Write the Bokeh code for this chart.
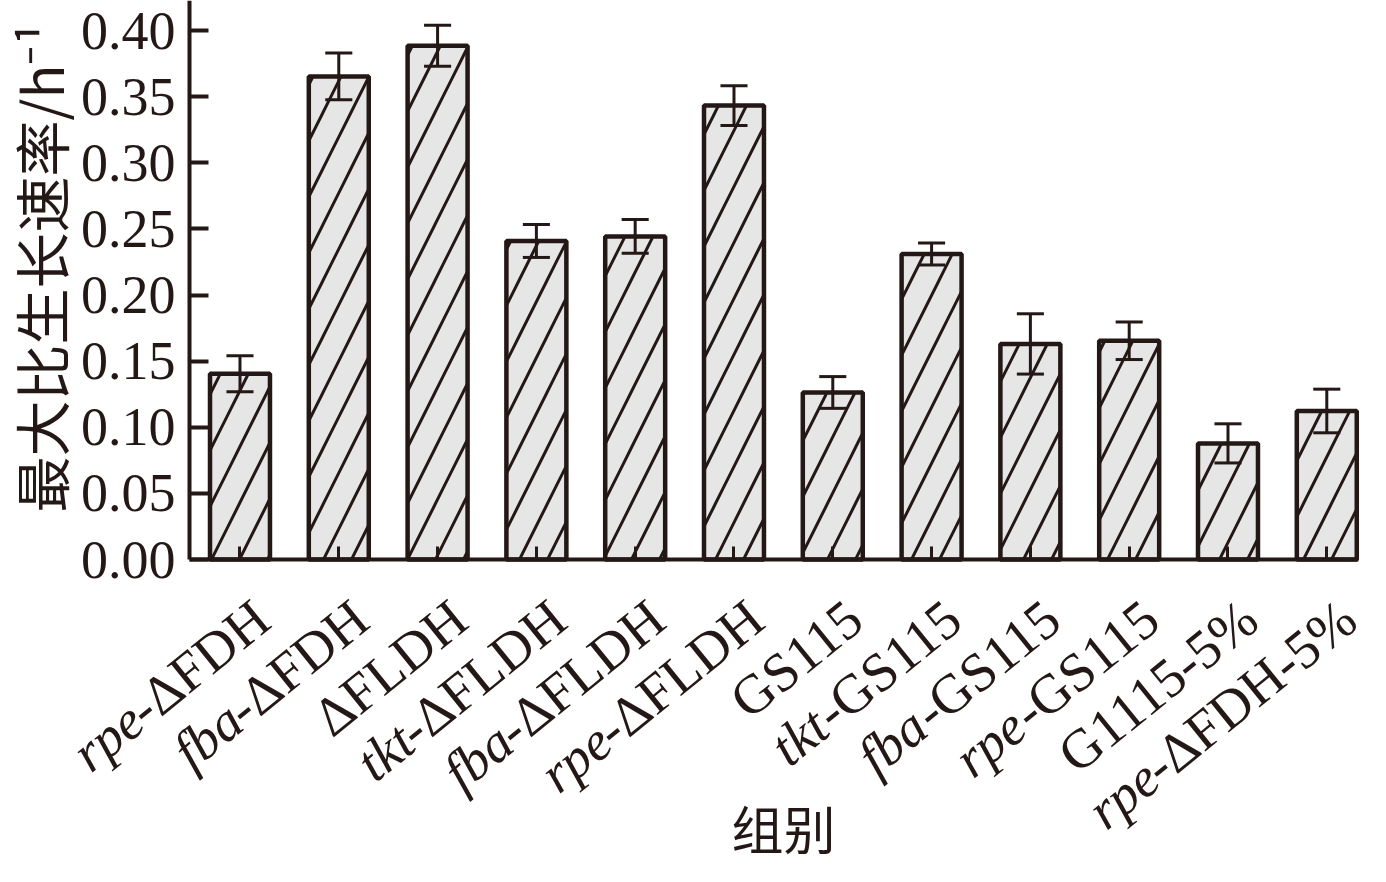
import math
from bokeh.plotting import figure
from bokeh.models import Range1d, FixedTicker, Label, ColumnDataSource
from bokeh.embed import file_html
from bokeh.resources import INLINE

# ---- data ----
gene_prefix = ["rpe", "fba", "", "tkt", "fba", "rpe", "", "tkt", "fba", "rpe", "", "rpe"]
strain_suffix = ["-ΔFDH", "-ΔFDH", "ΔFLDH", "-ΔFLDH", "-ΔFLDH", "-ΔFLDH",
                 "GS115", "-GS115", "-GS115", "-GS115", "G1115-5%", "-ΔFDH-5%"]
rates = [0.1405, 0.3653, 0.3885, 0.2409, 0.2443, 0.3432, 0.1263, 0.2310, 0.1630, 0.1654, 0.0878, 0.1123]
errors = [0.0136, 0.0177, 0.0155, 0.0125, 0.0128, 0.0150, 0.0120, 0.0083, 0.0228, 0.0142, 0.0148, 0.0165]
y_ticks = [0.00, 0.05, 0.10, 0.15, 0.20, 0.25, 0.30, 0.35, 0.40]
y_tick_labels = ["0.00", "0.05", "0.10", "0.15", "0.20", "0.25", "0.30", "0.35", "0.40"]
y_title = "最大比生长速率/h⁻¹"
x_title = "组别"

# ---- style / layout ----
INK = "#231815"
SERIF = "Liberation Serif"
CJK = "Noto Sans CJK SC"
LABEL_SIZE = 55
ANGLE = 39
W, H = 1370, 866
AXIS_PX = 189                      # screen column of the value axis
PITCH = 98.8                       # px per category
X_AXIS = -0.511                    # value-axis position in category units
X_LAST = 11.319                    # right end of the category axis
X_START = X_AXIS - AXIS_PX / PITCH
X_END = X_START + W / PITCH
TOP_TICK_PX, ZERO_PX = 30, 559     # screen rows of the 0.40 tick and the baseline
PX_PER_UNIT = (ZERO_PX - TOP_TICK_PX) / 0.40
Y_END = 0.40 + TOP_TICK_PX / PX_PER_UNIT
Y_START = -(H - ZERO_PX) / PX_PER_UNIT

# Liberation Serif (Times metrics) advance widths, per 1000 em
ADV = {'-': 333, 'Δ': 612, 'F': 556, 'D': 722, 'H': 722, 'L': 611, 'G': 722,
       'S': 556, '1': 500, '5': 500, '%': 833}

def text_width(s, size):
    return sum(ADV.get(c, 500) for c in s) / 1000.0 * size

idx = list(range(len(rates)))
lower = [r - e for r, e in zip(rates, errors)]
upper = [r + e for r, e in zip(rates, errors)]
cap = 0.137
src = ColumnDataSource(dict(x=idx, top=rates, lo=lower, hi=upper,
                            xl=[i - cap for i in idx], xr=[i + cap for i in idx]))

p = figure(width=W, height=H, output_backend="svg", toolbar_location=None,
           x_range=Range1d(X_START, X_END), y_range=Range1d(Y_START, Y_END),
           min_border_left=0, min_border_right=0, min_border_top=0, min_border_bottom=0)
p.outline_line_color = None
p.background_fill_color = "white"
p.border_fill_color = "white"
p.xgrid.visible = False
p.ygrid.visible = False

p.vbar(x="x", top="top", width=0.607, bottom=0, source=src,
       fill_color="#e6e6e6", line_color=INK, line_width=4.5,
       hatch_pattern="/", hatch_scale=56, hatch_weight=3, hatch_color=INK)
p.segment(x0="x", y0="lo", x1="x", y1="hi", source=src, line_color=INK, line_width=3)
p.segment(x0="xl", y0="hi", x1="xr", y1="hi", source=src, line_color=INK, line_width=3)
p.segment(x0="xl", y0="lo", x1="xr", y1="lo", source=src, line_color=INK, line_width=3)

# value axis, drawn at the left end of the category axis
ya = p.yaxis[0]
ya.fixed_location = X_AXIS
ya.bounds = (0, Y_END)
ya.ticker = FixedTicker(ticks=y_ticks)
ya.major_label_overrides = {t: l for t, l in zip(y_ticks, y_tick_labels)}
ya.axis_line_color = INK
ya.axis_line_width = 4
ya.major_tick_line_color = INK
ya.major_tick_line_width = 4
ya.major_tick_in = 19
ya.major_tick_out = 0
ya.minor_tick_line_color = None
ya.major_label_text_font = SERIF
ya.major_label_text_font_size = "54px"
ya.major_label_text_color = INK
ya.major_label_standoff = 14

# category axis drawn at y = 0; its ticks are unlabeled (labels drawn below)
xa = p.xaxis[0]
xa.fixed_location = 0
xa.bounds = (X_AXIS, X_LAST)
xa.ticker = FixedTicker(ticks=[], minor_ticks=idx)
xa.axis_line_color = INK
xa.axis_line_width = 4
xa.major_tick_line_color = None
xa.minor_tick_line_color = INK
xa.minor_tick_line_width = 3
xa.minor_tick_in = 13
xa.minor_tick_out = 0

# axis titles
p.add_layout(Label(x=X_AXIS, y=0, x_offset=-150, y_offset=292, text=y_title,
                   angle=90, angle_units="deg", text_align="center",
                   text_baseline="middle", text_font=CJK, text_font_size="56px",
                   text_color=INK))
p.add_layout(Label(x=5.5, y=0, y_offset=-268, text=x_title, text_align="center",
                   text_baseline="middle", text_font=CJK, text_font_size="52px",
                   text_color=INK))

# rotated category labels: italic gene prefix + roman strain part
ca, sa = math.cos(math.radians(ANGLE)), math.sin(math.radians(ANGLE))
base_dx, base_dy = 22, -52
for i, (pre, suf) in enumerate(zip(gene_prefix, strain_suffix)):
    p.add_layout(Label(x=i, y=0, x_offset=base_dx, y_offset=base_dy, text=suf,
                       angle=ANGLE, angle_units="deg", text_align="right",
                       text_baseline="alphabetic", text_font=SERIF,
                       text_font_size=f"{LABEL_SIZE}px", text_color=INK))
    if pre:
        w = text_width(suf, LABEL_SIZE)
        p.add_layout(Label(x=i, y=0, x_offset=base_dx - w * ca, y_offset=base_dy - w * sa,
                           text=pre, angle=ANGLE, angle_units="deg", text_align="right",
                           text_baseline="alphabetic", text_font=SERIF,
                           text_font_style="italic",
                           text_font_size=f"{LABEL_SIZE}px", text_color=INK))

open("out.html", "w").write(file_html(p, INLINE))
